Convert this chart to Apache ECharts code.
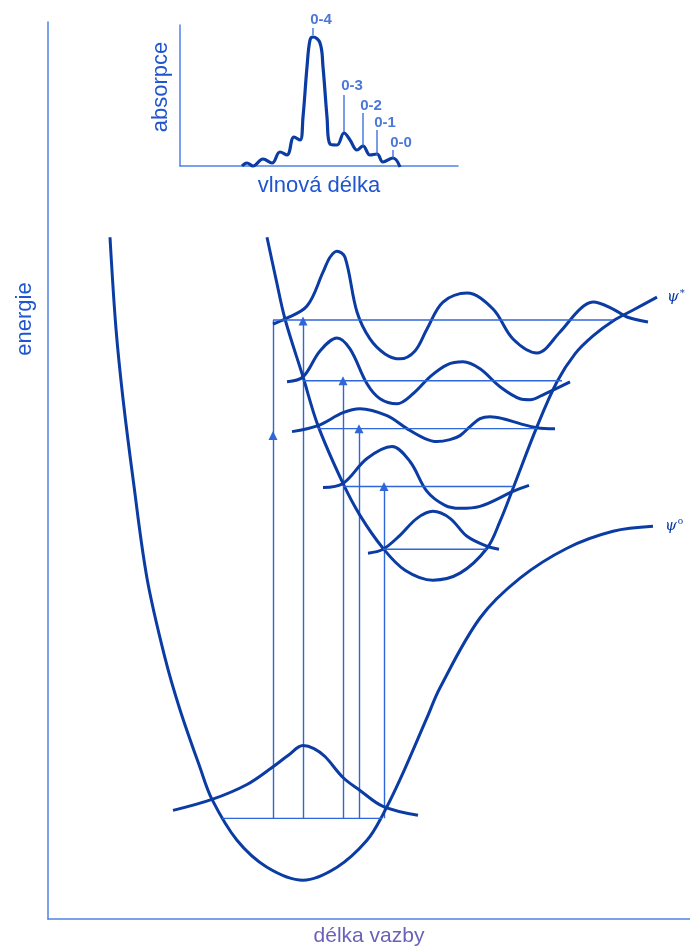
<!DOCTYPE html>
<html>
<head>
<meta charset="utf-8">
<script src="https://cdn.jsdelivr.net/npm/echarts@6/dist/echarts.min.js"></script>
<style>html,body{margin:0;padding:0;background:#fff}#c{width:690px;height:952px}</style>
</head>
<body>
<div id="c"></div>
<script>
// ---- main diagram (x = bond length units, y = energy units) ----
const groundPotential = [[62,684],[68,592],[75,522],[85,442],[99,342],[117,262],[132,210],[152,152],[164,120],[189,79],[219,52],[255,39],[289,52],[319,79],[335,105],[353,142],[379,202],[392,232],[432,302],[472,342],[519,372],[565,389],[605,394]];
const excitedPotential = [[219,684],[228,642],[237,602],[255,544],[270,495],[295,437],[312,405],[335,372],[357,350],[385,340],[412,347],[439,372],[452,399],[465,432],[489,494],[509,539],[527,567],[545,585],[565,600],[587,612],[609,624]];
const groundWave0 = [[125,109],[164,120],[199,135],[224,152],[240,164],[255,174],[266,171],[277,163],[295,142],[312,129],[335,113],[370,104]];
const excWave0 = [[320,367],[335,371],[352,385],[369,402],[385,409],[402,402],[419,384],[439,374],[451,371]];
const excWave1 = [[275,433],[295,437],[319,462],[344,474],[362,459],[379,429],[397,415],[412,412],[432,414],[465,429],[481,435]];
const excWave2 = [[244,489],[270,495],[295,508],[312,512],[339,505],[359,492],[377,482],[389,479],[402,481],[412,485],[422,494],[432,502],[442,504],[455,502],[472,497],[489,493],[507,492]];
const excWave3 = [[239,539],[255,544],[272,570],[289,583],[302,572],[319,537],[332,522],[349,517],[365,527],[382,544],[399,556],[415,559],[432,552],[452,534],[472,522],[482,521],[497,527],[522,539]];
const excWave4 = [[225,597],[237,602],[259,615],[275,649],[282,664],[289,670],[297,664],[309,609],[322,582],[337,567],[352,562],[367,570],[379,592],[395,619],[419,628],[445,612],[465,582],[489,568],[512,589],[532,612],[545,619],[565,612],[579,604],[600,599]];
// vibrational levels: [energy, r start, r end]
const groundLevel = [101, 174, 334];
const excitedLevels = [[371,335,439],[434,295,465],[492,270,489],[540,255,514],[601,225,565]];
// vertical transitions from the ground level: [r, energy reached, arrow position]
const transitions = [[225,601,485],[255,600,600],[295,540,540],[311,492,492],[336,434,434]];

// ---- inset absorption spectrum ----
const spectrum = [[62,0],[67,3],[73,0],[83,7],[92,3],[100,14],[107,11],[114,29],[120,26],[123,49],[127,99],[130,126],[133,129],[140,123],[143,99],[147,49],[150,22],[157,21],[164,33],[170,26],[177,16],[183,20],[190,11],[197,12],[203,4],[213,8],[220,-1]];
const peakNames = ['0-4','0-3','0-2','0-1','0-0'];
const peakX = [133,164,183,197,213];
const peakTickTop = [138,71,53,36,16];
const peakTickBottom = [131,34,20,11,8];
const peakLabelY = [146,80,60,43,23];

const thick = '#0b3ca4';
const thin = '#2f66d8';
const axisColor = '#4f82e4';
const textColor = '#1f55cf';

function axisCommon(extra) {
  return Object.assign({
    type: 'value',
    axisLine: { show: true, onZero: false, lineStyle: { color: axisColor, width: 1.5 } },
    axisTick: { show: false }, axisLabel: { show: false }, splitLine: { show: false }
  }, extra);
}

const series = [];
function curve(data, extra) {
  series.push(Object.assign({
    type: 'line', xAxisIndex: 0, yAxisIndex: 0, data: data, smooth: 0.35,
    showSymbol: false, symbol: 'none', silent: true, clip: false,
    lineStyle: { color: thick, width: 3 }
  }, extra || {}));
}
curve(groundPotential, {
  endLabel: { show: true, distance: 12, formatter: '{a|ψ}{b|o}',
    rich: { a: { fontFamily: 'DejaVu Serif', fontStyle: 'italic', fontSize: 15, color: thick },
            b: { fontFamily: 'DejaVu Serif', fontSize: 9, color: thick, padding: [0,0,9,1] } } }
});
curve(excitedPotential, {
  endLabel: { show: true, distance: 10, formatter: '{a|ψ}{b|*}',
    rich: { a: { fontFamily: 'DejaVu Serif', fontStyle: 'italic', fontSize: 15, color: thick },
            b: { fontFamily: 'DejaVu Serif', fontSize: 10, color: thick, padding: [0,0,8,1] } } }
});
[groundWave0, excWave0, excWave1, excWave2, excWave3, excWave4].forEach(w => curve(w));

// level lines
[groundLevel].concat(excitedLevels).forEach(l => {
  series.push({
    type: 'line', xAxisIndex: 0, yAxisIndex: 0, data: [[l[1], l[0]], [l[2], l[0]]],
    showSymbol: false, symbol: 'none', silent: true, lineStyle: { color: thin, width: 1.4 }
  });
});
// transitions with arrows
series.push({
  type: 'lines', coordinateSystem: 'cartesian2d', xAxisIndex: 0, yAxisIndex: 0, silent: true,
  symbol: ['none', 'triangle'], symbolSize: [5, 9],
  lineStyle: { color: thin, width: 1.4, opacity: 1 },
  data: transitions.map(t => ({ coords: [[t[0], groundLevel[0]], [t[0], t[2]]] }))
});
series.push({
  type: 'lines', coordinateSystem: 'cartesian2d', xAxisIndex: 0, yAxisIndex: 0, silent: true,
  symbol: 'none',
  lineStyle: { color: thin, width: 1.4, opacity: 1 },
  data: transitions.filter(t => t[1] !== t[2]).map(t => ({ coords: [[t[0], t[2]], [t[0], t[1]]] }))
});

// inset spectrum
series.push({
  type: 'line', xAxisIndex: 1, yAxisIndex: 1, data: spectrum, smooth: 0.4,
  showSymbol: false, symbol: 'none', silent: true, clip: false,
  lineStyle: { color: thick, width: 3.2 }
});
peakNames.forEach((n, i) => {
  series.push({
    type: 'line', xAxisIndex: 1, yAxisIndex: 1, clip: false,
    data: [[peakX[i], peakTickBottom[i]], [peakX[i], peakTickTop[i]]],
    showSymbol: false, symbol: 'none', silent: true, lineStyle: { color: thin, width: 1.3 }
  });
});
series.push({
  type: 'scatter', xAxisIndex: 1, yAxisIndex: 1, symbolSize: 0, silent: true, clip: false,
  data: peakNames.map((n, i) => ({ value: [peakX[i], peakLabelY[i]], name: n })),
  label: { show: true, position: 'inside', offset: [8, 0], formatter: '{b}',
    color: textColor, fontSize: 15, fontWeight: 'bold', fontFamily: 'Liberation Sans' }
});

const chart = echarts.init(document.getElementById('c'), null, { renderer: 'canvas' });
chart.setOption({
  animation: false,
  backgroundColor: '#fff',
  grid: [
    { left: 48, top: 22, width: 642, height: 900 },
    { left: 180, top: 25, width: 278, height: 141 }
  ],
  xAxis: [
    axisCommon({ gridIndex: 0, min: 0, max: 642, name: 'délka vazby', nameLocation: 'middle', nameGap: 7,
      nameTextStyle: { color: '#6a62b8', fontSize: 21, fontFamily: 'Liberation Sans', verticalAlign: 'top' } }),
    axisCommon({ gridIndex: 1, min: 0, max: 278, name: 'vlnová délka', nameLocation: 'middle', nameGap: 9,
      nameTextStyle: { color: textColor, fontSize: 22, fontFamily: 'Liberation Sans', verticalAlign: 'top' } })
  ],
  yAxis: [
    axisCommon({ gridIndex: 0, min: 0, max: 900 }),
    axisCommon({ gridIndex: 1, min: 0, max: 141 })
  ],
  graphic: [
    { type: 'text', x: 25, y: 319, rotation: Math.PI / 2, silent: true,
      style: { text: 'energie', fill: textColor, fontSize: 22, fontFamily: 'Liberation Sans', align: 'center', verticalAlign: 'middle' } },
    { type: 'text', x: 161, y: 87, rotation: Math.PI / 2, silent: true,
      style: { text: 'absorpce', fill: textColor, fontSize: 22, fontFamily: 'Liberation Sans', align: 'center', verticalAlign: 'middle' } }
  ],
  series: series
});
</script>
</body>
</html>
